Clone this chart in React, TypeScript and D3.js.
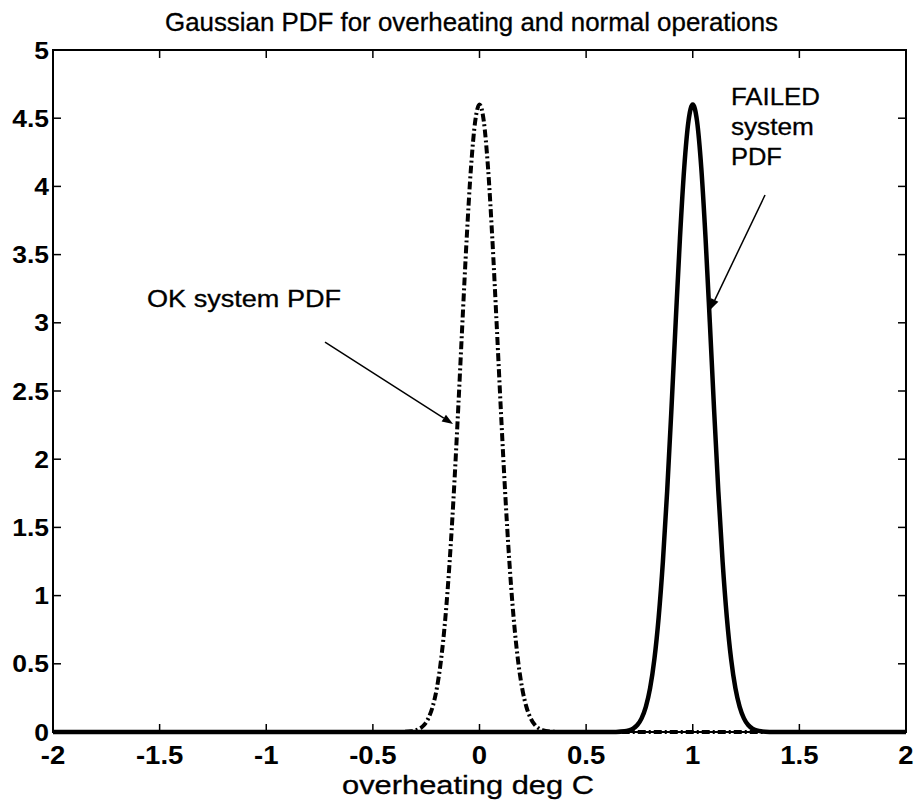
import React from "react";
import * as d3 from "d3";

// ---- data ----
const okX = [-2, -0.4, -0.36, -0.32, -0.3, -0.28, -0.26, -0.24, -0.22, -0.2, -0.18, -0.16, -0.14, -0.12, -0.1, -0.08, -0.06, -0.04, -0.02, 0, 0.02, 0.04, 0.06, 0.08, 0.1, 0.12, 0.14, 0.16, 0.18, 0.2, 0.22, 0.24, 0.26, 0.28, 0.3, 0.32, 0.36, 0.4, 2];
const okY = [0, 0.0001, 0.0008, 0.005, 0.012, 0.025, 0.051, 0.1, 0.184, 0.321, 0.533, 0.838, 1.249, 1.765, 2.365, 3.005, 3.621, 4.136, 4.479, 4.6, 4.479, 4.136, 3.621, 3.005, 2.365, 1.765, 1.249, 0.838, 0.533, 0.321, 0.184, 0.1, 0.051, 0.025, 0.012, 0.005, 0.0008, 0.0001, 0];
const failX = [-2, 0.6, 0.64, 0.68, 0.7, 0.72, 0.74, 0.76, 0.78, 0.8, 0.82, 0.84, 0.86, 0.88, 0.9, 0.92, 0.94, 0.96, 0.98, 1, 1.02, 1.04, 1.06, 1.08, 1.1, 1.12, 1.14, 1.16, 1.18, 1.2, 1.22, 1.24, 1.26, 1.28, 1.3, 1.32, 1.36, 1.4, 2];
const failY = [0, 0.0001, 0.0008, 0.005, 0.012, 0.025, 0.051, 0.1, 0.184, 0.321, 0.533, 0.838, 1.249, 1.765, 2.365, 3.005, 3.621, 4.136, 4.479, 4.6, 4.479, 4.136, 3.621, 3.005, 2.365, 1.765, 1.249, 0.838, 0.533, 0.321, 0.184, 0.1, 0.051, 0.025, 0.012, 0.005, 0.0008, 0.0001, 0];

const xTicks = [-2, -1.5, -1, -0.5, 0, 0.5, 1, 1.5, 2];
const yTicks = [0, 0.5, 1, 1.5, 2, 2.5, 3, 3.5, 4, 4.5, 5];

const title = "Gaussian PDF for overheating and normal operations";
const xLabel = "overheating deg C";
const okLabel = "OK system PDF";
const failLabel = ["FAILED", "system", "PDF"];
// arrows: [x0, y0, x1, y1] in data coordinates
const okArrow = [-0.7245, 2.859, -0.124, 2.258];
const failArrow = [1.339, 3.937, 1.081, 3.094];

const W = 915, H = 804;
const L = 53, R = 906, T = 50, B = 732;
const FONT = "Arial, 'Liberation Sans', Helvetica, sans-serif";

export default function App() {
  const x = d3.scaleLinear().domain([-2, 2]).range([L, R]);
  const y = d3.scaleLinear().domain([0, 5]).range([B, T]);
  const line = d3.line<[number, number]>().x(d => x(d[0])).y(d => y(d[1])).curve(d3.curveMonotoneX);
  const okPath = line(okX.map((v, i) => [v, okY[i]] as [number, number])) || "";
  const failPath = line(failX.map((v, i) => [v, failY[i]] as [number, number])) || "";
  const tick = 8;

  const arrow = (a: number[], key: string) => {
    const x0 = x(a[0]), y0 = y(a[1]), x1 = x(a[2]), y1 = y(a[3]);
    const ang = Math.atan2(y1 - y0, x1 - x0);
    const hl = 11, hw = 4;
    const bx = x1 - hl * Math.cos(ang), by = y1 - hl * Math.sin(ang);
    const px = -Math.sin(ang) * hw, py = Math.cos(ang) * hw;
    return (
      <g key={key}>
        <line x1={x0} y1={y0} x2={bx} y2={by} stroke="#000" strokeWidth={1.5} />
        <polygon points={`${x1},${y1} ${bx + px},${by + py} ${bx - px},${by - py}`} fill="#000" />
      </g>
    );
  };

  return (
    <svg width={W} height={H} style={{ position: "absolute", left: 0, top: 0, background: "#fff" }} fontFamily={FONT}>
      <rect x={0} y={0} width={W} height={H} fill="#fff" />
      <text x={165} y={31} fontSize={25} textLength={613} lengthAdjust="spacingAndGlyphs" stroke="#000" strokeWidth={0.3}>{title}</text>

      {/* curves */}
      <path d={okPath} fill="none" stroke="#000" strokeWidth={4} strokeDasharray="8,3,2,3" />
      <path d={failPath} fill="none" stroke="#000" strokeWidth={4.5} strokeLinejoin="round" />

      {/* axes box */}
      <rect x={L} y={T} width={R - L} height={B - T} fill="none" stroke="#000" strokeWidth={2} />
      {xTicks.map(t => (
        <g key={"x" + t}>
          <line x1={x(t)} x2={x(t)} y1={B} y2={B - tick} stroke="#000" strokeWidth={1.5} />
          <line x1={x(t)} x2={x(t)} y1={T} y2={T + tick} stroke="#000" strokeWidth={1.5} />
          <text transform={`translate(${x(t)},764) scale(1.1,1)`} textAnchor="middle" fontSize={25} fontWeight="bold">{String(t)}</text>
        </g>
      ))}
      {yTicks.map(t => (
        <g key={"y" + t}>
          <line x1={L} x2={L + tick} y1={y(t)} y2={y(t)} stroke="#000" strokeWidth={1.5} />
          <line x1={R} x2={R - tick} y1={y(t)} y2={y(t)} stroke="#000" strokeWidth={1.5} />
          <text transform={`translate(49,${y(t) + 8.5}) scale(1.15,1)`} textAnchor="end" fontSize={23} fontWeight="bold">{String(t)}</text>
        </g>
      ))}
      <text x={342} y={794} fontSize={26} textLength={252} lengthAdjust="spacingAndGlyphs" stroke="#000" strokeWidth={0.3}>{xLabel}</text>

      {/* annotations */}
      <text x={x(-1.559)} y={y(3.116)} fontSize={23} textLength={194} lengthAdjust="spacingAndGlyphs" stroke="#000" strokeWidth={0.3}>{okLabel}</text>
      {arrow(okArrow, "ok")}
      {failLabel.map((s, i) => (
        <text key={s} x={x(1.179)} y={y(4.597 - i * 0.22)} fontSize={24} stroke="#000" strokeWidth={0.3}
          textLength={[89, 83, 51][i]} lengthAdjust="spacingAndGlyphs">{s}</text>
      ))}
      {arrow(failArrow, "fail")}
    </svg>
  );
}
